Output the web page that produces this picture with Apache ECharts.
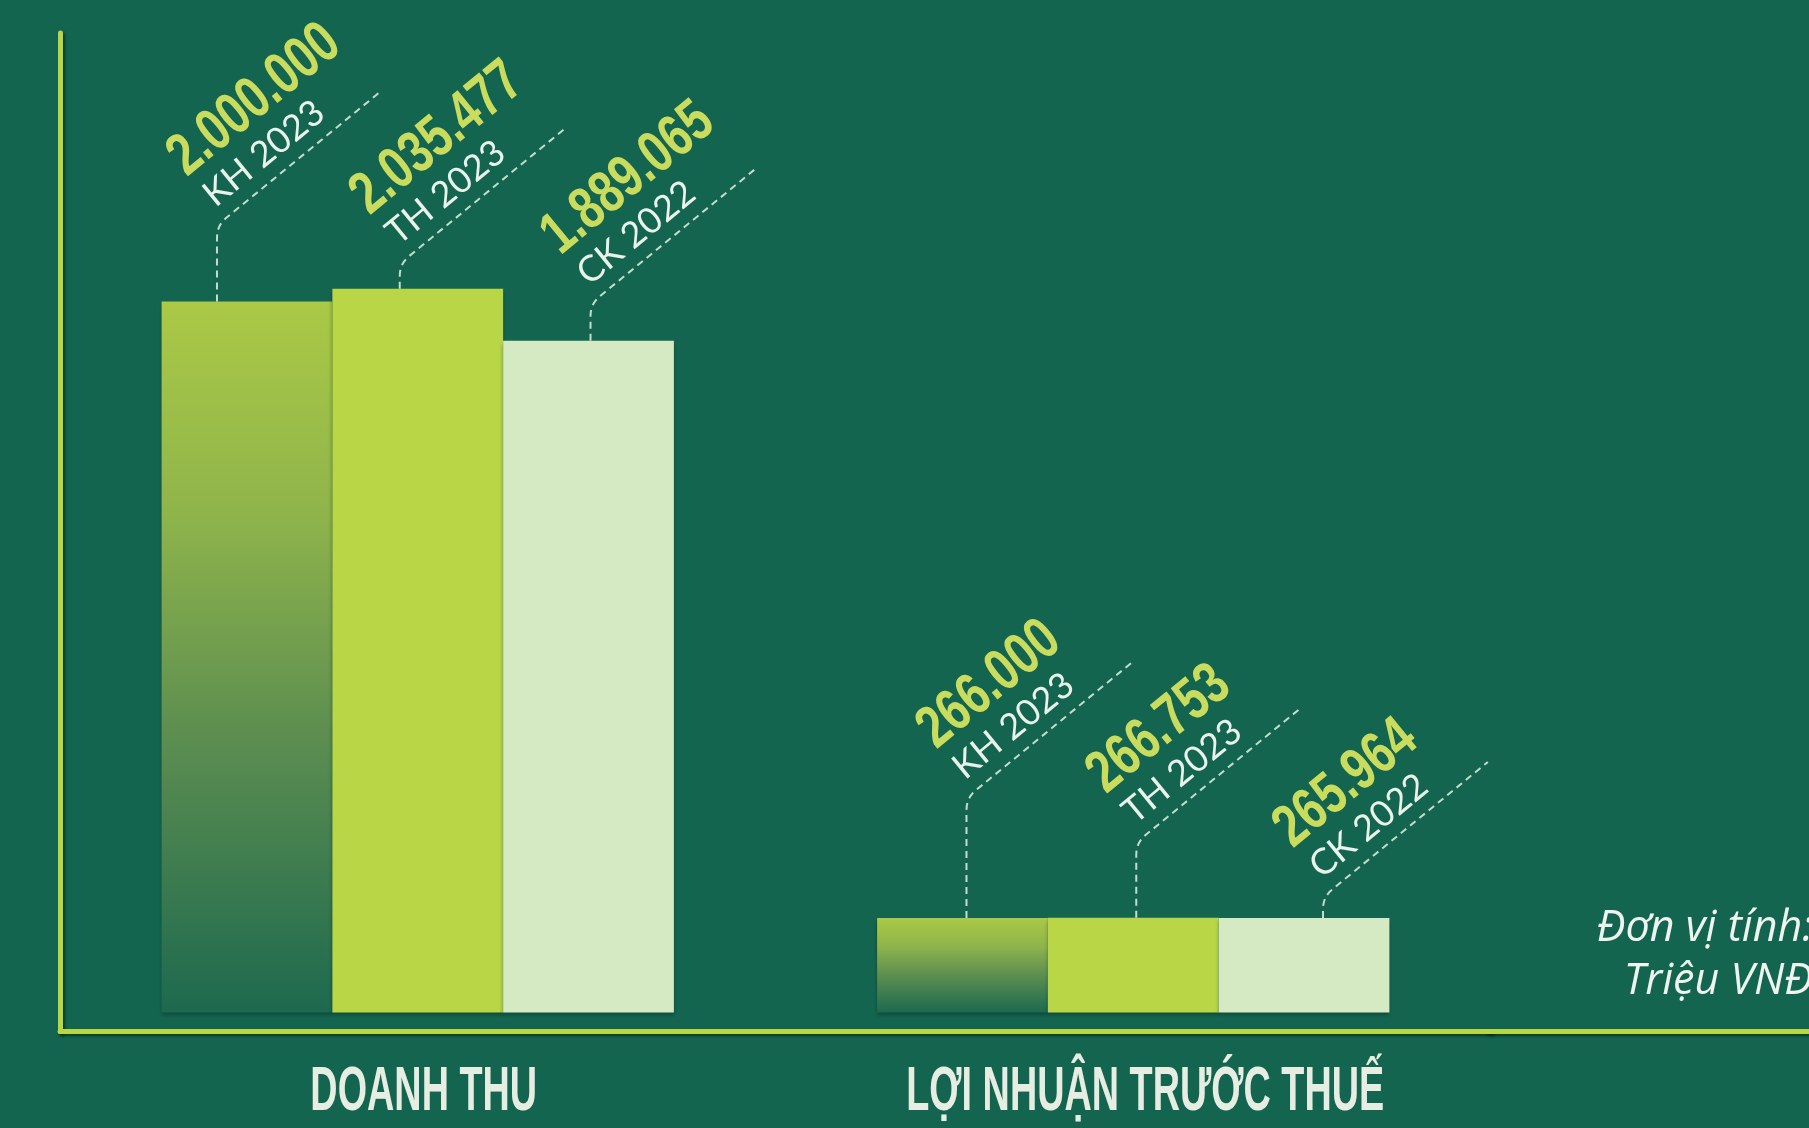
<!DOCTYPE html>
<html>
<head>
<meta charset="utf-8">
<script src="https://cdn.jsdelivr.net/npm/echarts@6/dist/echarts.min.js"></script>
<style>
html,body{margin:0;padding:0;background:#146550;overflow:hidden;}
#chart{width:1809px;height:1128px;}
</style>
</head>
<body>
<div id="chart"></div>
<script>
// ---------------- data ----------------
const categories = ['DOANH THU', 'LỢI NHUẬN TRƯỚC THUẾ'];
const seriesNames = ['KH 2023', 'TH 2023', 'CK 2022'];
const kh2023 = [2000000, 266000];
const th2023 = [2035477, 266753];
const ck2022 = [1889065, 265964];
const unitNote = ['Đơn vị tính:', 'Triệu VNĐ'];

// ---------------- layout / style ----------------
const BG = '#146550';
const AXIS_COLOR = '#b9d644';
const Y_MIN = -53500;
const Y_MAX = 2755000;
const CAT_GAP = 0.284;
const ANG = 39.3 * Math.PI / 180;
const DIAG = 213;
const leaderShift = [[-30, -18, 2], [4, 3, 19]];
const leaderRise = [[76, 25, 37], [120, 75, 21]];
const catShift = [6, 12];
const VALUE_FONT = 'bold 60px "Liberation Sans", Arial, sans-serif';
const VALUE_SCALE = 0.76;
const VALUE_OFFSET = [7, 73];   // along / across the leader
const NAME_FONT = '400 36px Lato, "Open Sans", sans-serif';
const NAME_OFFSET = [10, 26];
const CAT_FONT = 'bold 63px "Liberation Sans", Arial, sans-serif';
const CAT_SCALE = 0.6;

function fmt(v) { return String(v).replace(/\B(?=(\d{3})+(?!\d))/g, '.'); }

const seriesValues = [kh2023, th2023, ck2022];
const barColors = [
  new echarts.graphic.LinearGradient(0, 0, 0, 1, [
    { offset: 0, color: '#abc946' },
    { offset: 0.3, color: '#8fb44b' },
    { offset: 0.6, color: '#5e8f50' },
    { offset: 1, color: '#1d694f' }
  ]),
  '#b8d646',
  '#d5e9c3'
];

const labelData = [];
categories.forEach((c, ci) => {
  seriesValues.forEach((arr, si) => { labelData.push([ci, si, arr[ci]]); });
});
const catData = categories.map((c, ci) => [ci, 0]);

function renderLeader(params, api) {
  const c = api.value(0), s = api.value(1), v = api.value(2);
  const top = api.coord([c, v]);
  const bandW = api.size([1, 0])[0];
  const barW = bandW * (1 - CAT_GAP) / 3;
  const x = top[0] + (s - 1) * barW + leaderShift[c][s];
  const yTop = top[1];
  const by = yTop - leaderRise[c][s];
  const ux = Math.cos(ANG), uy = -Math.sin(ANG);
  const nx = -Math.sin(ANG), ny = -Math.cos(ANG);
  const r = 12;
  const p0 = [x, by + r], p1 = [x, by], p2 = [x + r * ux, by + r * uy];
  const pts = [[x, yTop], p0];
  for (let k = 1; k <= 6; k++) {
    const t = k / 6;
    pts.push([
      (1 - t) * (1 - t) * p0[0] + 2 * (1 - t) * t * p1[0] + t * t * p2[0],
      (1 - t) * (1 - t) * p0[1] + 2 * (1 - t) * t * p1[1] + t * t * p2[1]
    ]);
  }
  pts.push([x + DIAG * ux, by + DIAG * uy]);
  const at = (u, w) => [x + u * ux + w * nx, by + u * uy + w * ny];
  const pv = at(VALUE_OFFSET[0], VALUE_OFFSET[1]), pk = at(NAME_OFFSET[0], NAME_OFFSET[1]);
  return {
    type: 'group',
    children: [
      { type: 'polyline', shape: { points: pts },
        style: { stroke: 'rgba(215,232,218,0.9)', lineWidth: 2, lineDash: [7, 5], fill: null } },
      { type: 'text', x: pv[0], y: pv[1], rotation: ANG, scaleX: VALUE_SCALE,
        style: { text: fmt(v), fill: '#c9dc5e', font: VALUE_FONT,
                 align: 'left', verticalAlign: 'middle', textAlign: 'left', textVerticalAlign: 'middle' } },
      { type: 'text', x: pk[0], y: pk[1], rotation: ANG,
        style: { text: seriesNames[s], fill: '#eaf2ec', font: NAME_FONT,
                 align: 'left', verticalAlign: 'middle', textAlign: 'left', textVerticalAlign: 'middle' } }
    ]
  };
}

function renderCategory(params, api) {
  const c = api.value(0);
  const p = api.coord([c, Y_MIN]);
  return {
    type: 'text', x: p[0] + catShift[c], y: p[1] + 61.5, scaleX: CAT_SCALE,
    style: { text: categories[c], fill: '#e6ede2', font: CAT_FONT,
             align: 'center', verticalAlign: 'middle', textAlign: 'center', textVerticalAlign: 'middle' }
  };
}

const chart = echarts.init(document.getElementById('chart'), null, { renderer: 'canvas' });
const axisShadow = { shadowColor: 'rgba(0,25,15,0.55)', shadowBlur: 3, shadowOffsetX: 2, shadowOffsetY: 2 };

chart.setOption({
  animation: false,
  backgroundColor: BG,
  grid: { left: 60, top: 33, width: 1431, bottom: 96.5, containLabel: false },
  xAxis: {
    type: 'category',
    data: categories,
    axisLine: { onZero: false, lineStyle: Object.assign({ color: AXIS_COLOR, width: 5 }, axisShadow) },
    axisTick: { show: false },
    axisLabel: { show: false },
    splitLine: { show: false }
  },
  yAxis: {
    type: 'value',
    min: Y_MIN,
    max: Y_MAX,
    axisLine: { show: true, lineStyle: Object.assign({ color: AXIS_COLOR, width: 5 }, axisShadow) },
    axisTick: { show: false },
    axisLabel: { show: false },
    splitLine: { show: false }
  },
  graphic: [
    { type: 'line', z: 1, shape: { x1: 1485, y1: 1031.5, x2: 1809, y2: 1031.5 },
      style: Object.assign({ stroke: AXIS_COLOR, lineWidth: 5 }, axisShadow) },
    { type: 'text', x: 1813, y: 902, z: 10,
      style: { text: unitNote.join('\n'), fill: '#eef4ee', font: 'italic 43px "Open Sans", sans-serif',
               lineHeight: 53, align: 'right', verticalAlign: 'top', textAlign: 'right', textVerticalAlign: 'top' } }
  ],
  series: seriesValues.map((arr, i) => ({
    type: 'bar',
    name: seriesNames[i],
    data: arr,
    barGap: '0%',
    barCategoryGap: (CAT_GAP * 100) + '%',
    z: 2,
    itemStyle: { color: barColors[i], shadowColor: 'rgba(0,20,10,0.35)', shadowBlur: 4, shadowOffsetY: 3 }
  })).concat([
    { type: 'custom', name: 'labels', data: labelData, encode: { x: 0, y: 2 }, z: 5, renderItem: renderLeader, silent: true },
    { type: 'custom', name: 'categories', data: catData, encode: { x: 0, y: 1 }, z: 5, renderItem: renderCategory, silent: true }
  ])
});
</script>
</body>
</html>
